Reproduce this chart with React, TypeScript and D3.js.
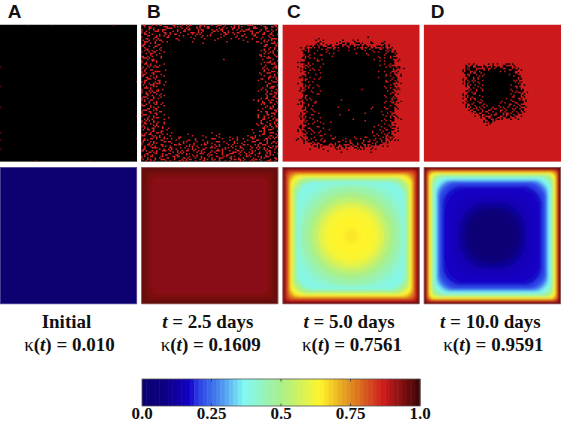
import React from 'react';
import * as d3 from 'd3';

const panels = ['A', 'B', 'C', 'D'];
const timeLabels = ['Initial', '2.5 days', '5.0 days', '10.0 days'];
const kappaLabels = ['0.010', '0.1609', '0.7561', '0.9591'];

// colour bar
const colorStops = [0, 0.08, 0.17, 0.2, 0.28, 0.365, 0.5, 0.64, 0.75, 0.87, 1];
const colorValues = ['#0a0070', '#0c0080', '#1400c4', '#2a3ce4', '#4a8cf0', '#80f8f4', '#a8f08c', '#fff52a', '#e08c20', '#cc1a1c', '#380606'];
const barTicks = [0, 0.25, 0.5, 0.75, 1];
const barTickLabels = ['0.0', '0.25', '0.5', '0.75', '1.0'];
const barSteps = d3.range(64);

// top row: occupied sites on a 92x92 lattice
const sparseA: [number, number][] = [[0, 28], [0, 41], [0, 55], [0, 72], [0, 77], [0, 83], [91, 38], [91, 61], [91, 76], [18, 0], [34, 0], [57, 0], [76, 0], [24, 91], [60, 91]];

// one hex digit per 2x2 block of sites (bits: 8 top left, 4 top right, 2 bottom left, 1 bottom right)
const gridB = [
  '4a1608c1304a2609c0158a3406c1802a5104c92083016a',
  '2058a1036c802419a04630c1029a40586103a4c0258106',
  'a6104c09214082c0130a6001c4092a1038c04a1602c180',
  '0c3402a1860c10240864102a0041c008216009a0481c24',
  '8120690048012000410082000140002410080240600932',
  '436018c2100040000200000040001000008100120a6410',
  '1a084120000000000000400000000000000000008124c6',
  'c2406810000000000000000000000000000000000c0218',
  '06a10290000000000000000000000000000000002a4061',
  '8143c024000000000000000000000000000000000618a0',
  '3029081000000000000000000000000000000004a21043',
  '4c6120400000000000000000000100000000000010c820',
  'a1048a0000000000000000000000000000000000023a14',
  '0c2a1024000000000000000000000000000000008104c2',
  '61408c000000000000000000000000000000000018206a',
  '2a0c1320800000000000000000000000000000000a4130',
  '9604a0100000000000000000000000000000000420c814',
  'c1282a0400000000000000000000000000000000081a62',
  '03c8412000000000000000000000000000000002c04109',
  '8a1063a0800000000000000000000000000000000412c8',
  '410ca2040000000000000000000000000000000000a134',
  '2c8a010200000000000000000000000000000000610c82',
  'a1463c000000000000000000000000000000000800a416',
  '04a1086100000000000000000000000000000000042c18',
  '6c20a1400000000000000000000000000000000021a0c3',
  '8a1c02000000000000000000000000000000040a104682',
  '21409a18000000000000000000000000000000006a0c14',
  'c80a2104000000000000000000000000000000000182a0',
  '13c06a0000000000000000000000000000000002400c16',
  'a04a12c00000000000000000000000000000000084a138',
  '6c1028040000000000000000000000000000000a02c140',
  '02a18c01080000000000000000000000000000081a4063',
  'a640a10100000000000000000000000000000000a0281c',
  '1c082a0400000000000000000000000000000042c10a46',
  '8a21640a020000000000000000000000000000001a842c',
  '40c1a012400000000000000000000000000008012a4c01',
  '261a0c42108000010000000400200000000004001a0c82',
  'c80462a1040012000800410008200100200412a4001c26',
  '1a2c08164081400120a01004c0080140a0810c1206a840',
  '6018a2048c2010a8014002a10c84100a21400c8120a1c6',
  '82c6104a210c4802a6108c0142a0086102c4108a4c1023',
  '1a04c82106a108410a28160c4102a8410c2018460a2c18',
  'c4162a0c8410a62c0418a2061c8a0413c6102a81046a10',
  '06a1480a3c01640a8214c063080a16c0420a682c018a24',
  'a82c1068124ac0318460a2410c3641a8102c4108a6c012',
  '418a604c2108162ac0241a8460a0218c4a6019c4203a18',
];

const gridC = [
  '0000000000000000000000000000000000000000000000',
  '0000000000000000000000000000000000000000000000',
  '0000000000000000000000000000000000000000000000',
  '0000000000000000000000000000000000000000000000',
  '0000000000002000000000000000400000000000000000',
  '0000000000081400000280042800010000200000000000',
  '000000000006a4102083c5a24c6104800c210000000000',
  '000000218c6f5b3c94ef7b5f7d8e9a14c6a41000000000',
  '00000016affef7bdf7efffdf7fbef7dfb7e6a100000000',
  '0000000fbfefffbefdffffffefffdfbf7fe7b620000000',
  '00000006e7ffb7ffefffffffffffbfffdf7fdc00000000',
  '00000049f7befdffffffffffffffffefbf7f7c82000000',
  '00000237effb7fffffffffffffffffffbf7ffa40000000',
  '000000069d7ffbffffffffffffffffffef7e6800000000',
  '00000826bfdfbfffffffffffffffffffffbf7d6a100000',
  '0000002cf7bf7fffffffffffffffffffdfdfe410000000',
  '00000004bffdbfffffffffffffffffffffef7a81000000',
  '0000016bfdffefffffffffffffffffffdfbf7d24000000',
  '0000000a7fbf7fffffffffffffffffffffef9ea0000000',
  '0000024fbf7fffffffffffffffffffffffb7fc41000000',
  '0000000ae7fbdfffffffffffffffffffffdf7a80000000',
  '000000a6bf7fffffffffffffffefffffffbf7c62000000',
  '00000417fbdfbffffffffffffffffffffff7e900000000',
  '0000000edffb7fffffffffffffffffffffdf7a40000000',
  '0000001afdffffffffffffffffffffffffbfe620000000',
  '0000048f7bfdfffffffbffffffffffffffef9d81000000',
  '000002a7efb7ffffffffffffffffffffff7fb640000000',
  '0000000ebf7fffffffefffffffffffdfffdf7e20000000',
  '00000048fbdfffffffffffdffffffbffffb7fa40000000',
  '0000002c7fbfdffffffffffffffefffff7fd6800000000',
  '00000186fb7ffffffff7fffffffffffffbef9c20000000',
  '000000a9f7dfbffffffffffeffffffffffdf7a41000000',
  '000000067febefffdffffffffffbfffff7bf6800000000',
  '0000002cbf7ffbffffffffffffffffffdf7ea400000000',
  '000004a7edfb7effffffffffffffffbff7df6c10000000',
  '00000a16fbdfeffbffffffffffffffdfbeb7e810000000',
  '0000000c7ebf7fdfffffffffffffff7ef7d9a400000000',
  '00000028dfefb7ff7effffffdffedfbf7ea6c200000000',
  '000018426bfde7dfb7ffd7efbf7dfde7bda46110000000',
  '0000000a4c6edb7fdeb7f7adfde7b7d9f68a0000000000',
  '000000000412a6c829e4b169c7d2a6c481020000000000',
  '0000000002008100042a4100c62a018200000000000000',
  '0000000000000008000100000000010000000000000000',
  '0000000000000000000000000000000000000000000000',
  '0000000000000000000000000000000000000000000000',
  '0000000000000000000000000000000000000000000000',
];

const gridD = [
  '0000000000000000000000000000000000000000000000',
  '0000000000000000000000000000000000000000000000',
  '0000000000000000000000000000000000000000000000',
  '0000000000000000000000000000000000000000000000',
  '0000000000000000000000000000000000000000000000',
  '0000000000000000000000000000000000000000000000',
  '0000000000000000000000000000000000000000000000',
  '0000000000000000000000000000000000000000000000',
  '0000000000000000000000000000000000000000000000',
  '0000000000000000000000000000000000000000000000',
  '0000000000000000000000000000000000000000000000',
  '0000000000000000000000000000000000000000000000',
  '0000000000000000000000000000000000000000000000',
  '00000000000000286100240a4016c42000000000000000',
  '00000000000000e7b6c8d69e7b6dfa6100000000000000',
  '0000000000000af6d9ef7bfffefdb7e840000000000000',
  '00000000000004e9b6f7dfffffffefb600000000000000',
  '00000000000000d7ef9bffffffffff7ea0000000000000',
  '0000000000000a6f9d7effffffffffd9c0000000000000',
  '00000000000002e7bf6fffffffffffbe60000000000000',
  '00000000000000a9f7dbfffffffff7ed84000000000000',
  '0000000000000006bef6fffffffffdf7a2000000000000',
  '00000000000000c7d9fbfffffffffbe6d8100000000000',
  '0000000000000a6fb7effffffffff7dfa6000000000000',
  '000000000000029e6dfbfffffffefb7e94000000000000',
  '000000000000006bf7d6ffffffdff6df72a00000000000',
  '000000000000086d9fb7dffffbf7edb6e8000000000000',
  '00000000000000a6f6ebd7fdf6ef9f7d6c200000000000',
  '00000000000000069bd6fe9b7ed6fb9f6a000000000000',
  '000000000000000086e9b6f7dbe6d9f6b4000000000000',
  '0000000000000000024a6c9b7e9a7d6810000000000000',
  '000000000000000000084b6d92a4c24100000000000000',
  '00000000000000000000a6f40000000000000000000000',
  '0000000000000000000002800000000000000000000000',
  '0000000000000000000000000000000000000000000000',
  '0000000000000000000000000000000000000000000000',
  '0000000000000000000000000000000000000000000000',
  '0000000000000000000000000000000000000000000000',
  '0000000000000000000000000000000000000000000000',
  '0000000000000000000000000000000000000000000000',
  '0000000000000000000000000000000000000000000000',
  '0000000000000000000000000000000000000000000000',
  '0000000000000000000000000000000000000000000000',
  '0000000000000000000000000000000000000000000000',
  '0000000000000000000000000000000000000000000000',
  '0000000000000000000000000000000000000000000000',
];

// bottom row: nested contours of the density field, depth and round in % of panel width
const depthA = [0];
const valueA = [0.005];
const roundA = [0];

const depthB = [0, 1.5, 4, 7];
const valueB = [0.965, 0.955, 0.94, 0.93];
const roundB = [0, 1, 3, 5];

const depthC = [0, 1, 2, 3, 4, 5, 6, 7, 8, 9.5, 11, 12, 13, 14, 18, 22, 26, 30, 34, 38, 42, 45];
const valueC = [0.98, 0.93, 0.88, 0.83, 0.77, 0.7, 0.64, 0.58, 0.52, 0.45, 0.385, 0.4, 0.43, 0.46, 0.5, 0.54, 0.59, 0.625, 0.635, 0.64, 0.642, 0.655];
const roundC = [0, 1, 2, 3, 4, 6, 7, 9, 10, 11, 12, 24, 30, 36, 32, 28, 24, 20, 16, 12, 8, 5];

const depthD = [0, 1, 2, 3, 4, 5, 6, 7, 8, 9, 10, 11, 12, 14, 16, 19, 22, 26, 30, 35];
const valueD = [0.98, 0.92, 0.85, 0.74, 0.64, 0.56, 0.48, 0.42, 0.37, 0.33, 0.27, 0.23, 0.2, 0.175, 0.17, 0.165, 0.15, 0.11, 0.05, 0.02];
const roundD = [0, 1, 2, 3, 4, 5, 6, 8, 9, 10, 11, 12, 13, 14, 16, 18, 20, 20, 18, 15];

const fieldDepths = [depthA, depthB, depthC, depthD];
const fieldValues = [valueA, valueB, valueC, valueD];
const fieldRounds = [roundA, roundB, roundC, roundD];

const cellRed = '#cc1a1c';
const serif = '"Liberation Serif", serif';

const color = d3.scaleLinear<string>().domain(colorStops).range(colorValues).interpolate(d3.interpolateRgb);

const panelX = d3.scaleBand().domain(panels).range([-0.2, 561]).paddingInner(0.028);
const rowY = d3.scaleBand().domain(['cells', 'field']).range([24.5, 304.5]).paddingInner(0.035);
const size = panelX.bandwidth();
const site = d3.scaleBand<number>().domain(d3.range(92)).range([0, size]);
const pct = d3.scaleLinear().domain([0, 100]).range([0, size]);
const barX = d3.scaleLinear().domain([0, 1]).range([142, 420]);
const barY = 379;
const barH = 27;
const letterDx = [8, 6, 4.5, 7];

function gridPath(grid: string[]) {
  const p = d3.path();
  const w = site.bandwidth();
  grid.forEach((row, r) => {
    row.split('').forEach((ch, c) => {
      const bits = parseInt(ch, 16);
      if (bits & 8) p.rect(site(2 * c)!, site(2 * r)!, w, w);
      if (bits & 4) p.rect(site(2 * c + 1)!, site(2 * r)!, w, w);
      if (bits & 2) p.rect(site(2 * c)!, site(2 * r + 1)!, w, w);
      if (bits & 1) p.rect(site(2 * c + 1)!, site(2 * r + 1)!, w, w);
    });
  });
  return p.toString();
}

export default function App() {
  const cellsY = rowY('cells')!;
  const fieldY = rowY('field')!;
  return (
    <svg width={561} height={423} style={{ position: 'absolute', left: 0, top: 0, background: '#fff' }}>
      <defs>
        <filter id="soft" x="-5%" y="-5%" width="110%" height="110%">
          <feGaussianBlur stdDeviation="0.5" />
        </filter>
        <filter id="smooth" x="-5%" y="-5%" width="110%" height="110%">
          <feGaussianBlur stdDeviation="1.1" />
        </filter>
        {panels.map(p => (
          <clipPath key={p} id={`clip-${p}`}>
            <rect width={size} height={size} />
          </clipPath>
        ))}
      </defs>

      {panels.map((p, i) => (
        <text key={p} x={panelX(p)! + letterDx[i]} y={18} fontFamily='"Liberation Sans", sans-serif' fontWeight="bold" fontSize={19} fill="#111">
          {p}
        </text>
      ))}

      {/* Top row */}
      {panels.map((p, i) => (
        <g key={p} transform={`translate(${panelX(p)},${cellsY})`} clipPath={`url(#clip-${p})`}>
          <rect width={size} height={size} fill={i < 2 ? '#000' : cellRed} />
          <g filter="url(#soft)">
            {i === 0 && (
              <g fill={cellRed} opacity={0.5}>
                {sparseA.map(([c, r], k) => (
                  <rect key={k} x={site(c)} y={site(r)} width={site.bandwidth()} height={site.bandwidth()} />
                ))}
              </g>
            )}
            {i === 1 && <path d={gridPath(gridB)} fill="#d82024" />}
            {i === 2 && <path d={gridPath(gridC)} fill="#000" />}
            {i === 3 && <path d={gridPath(gridD)} fill="#000" />}
          </g>
        </g>
      ))}

      {/* Bottom row */}
      {panels.map((p, i) => (
        <g key={p} transform={`translate(${panelX(p)},${fieldY})`}>
          <g clipPath={`url(#clip-${p})`}>
            <rect width={size} height={size} fill={color(fieldValues[i][0])} />
            <g filter="url(#smooth)">
              {fieldDepths[i].map((d, k) => (
                <rect
                  key={k}
                  x={pct(d)}
                  y={pct(d)}
                  width={size - 2 * pct(d)}
                  height={size - 2 * pct(d)}
                  rx={pct(fieldRounds[i][k])}
                  fill={color(fieldValues[i][k])}
                />
              ))}
            </g>
          </g>
          <rect x={0.5} y={0.5} width={size - 1} height={size - 1} fill="none" stroke="#fff" strokeOpacity={0.3} />
        </g>
      ))}

      {/* Captions */}
      {panels.map((p, i) => {
        const cx = panelX(p)! + size / 2;
        return (
          <g key={p} fontFamily={serif} fontWeight="bold" fontSize={19} textAnchor="middle" fill="#111">
            <text x={cx - 2} y={327.5}>
              {i === 0 ? (
                timeLabels[i]
              ) : (
                <>
                  <tspan fontStyle="italic">t</tspan> = {timeLabels[i]}
                </>
              )}
            </text>
            <text x={cx + 1} y={351}>
              <tspan fontWeight="normal">κ</tspan>(<tspan fontStyle="italic">t</tspan>) = {kappaLabels[i]}
            </text>
          </g>
        );
      })}

      {/* Colour bar */}
      {barSteps.map(s => (
        <rect
          key={s}
          x={barX(s / barSteps.length)}
          y={barY}
          width={barX(1 / barSteps.length) - barX(0) + 0.5}
          height={barH}
          fill={color((s + 0.5) / barSteps.length)}
        />
      ))}
      <rect x={barX(0)} y={barY} width={barX(1) - barX(0)} height={barH} fill="none" stroke="#555" strokeWidth={0.8} />
      {barTicks.slice(1, -1).map(t => (
        <g key={t} stroke="#333" strokeWidth={0.8}>
          <line x1={barX(t)} x2={barX(t)} y1={barY} y2={barY + 2.5} />
          <line x1={barX(t)} x2={barX(t)} y1={barY + barH - 2.5} y2={barY + barH} />
        </g>
      ))}
      {barTicks.map((t, i) => (
        <text key={t} x={barX(t)} y={419} fontFamily={serif} fontWeight="bold" fontSize={17} textAnchor="middle" fill="#111">
          {barTickLabels[i]}
        </text>
      ))}
    </svg>
  );
}
